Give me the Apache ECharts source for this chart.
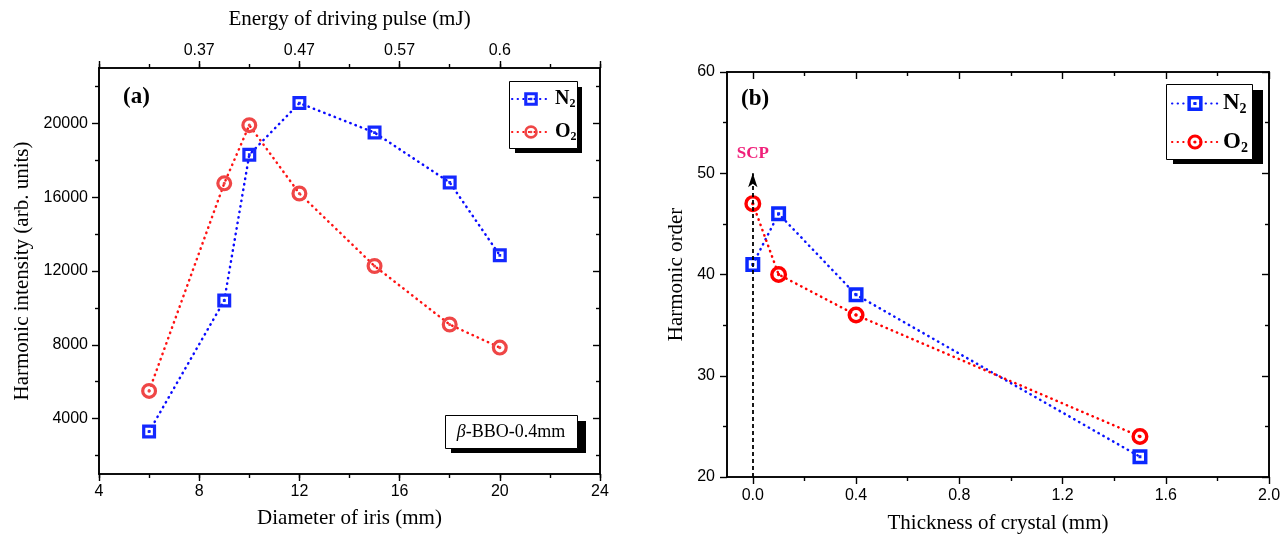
<!DOCTYPE html>
<html>
<head>
<meta charset="utf-8">
<script src="https://cdn.jsdelivr.net/npm/echarts@6/dist/echarts.min.js"></script>
<style>html,body{margin:0;padding:0;background:#fff}#c{width:1286px;height:539px}</style>
</head>
<body>
<div id="c"></div>
<script>
// ---- data: panel (a)
const irisDiameter = [6, 9, 10, 12, 15, 18, 20];
const intensityN2 = [3300, 10400, 18300, 21100, 19500, 16800, 12850];
const intensityO2 = [5500, 16750, 19900, 16200, 12270, 9100, 7850];
const irisLabelVals = [4, 8, 12, 16, 20, 24];
const irisTickVals = [4, 6, 8, 10, 12, 14, 16, 18, 20, 22, 24];
const intensityLabelVals = [4000, 8000, 12000, 16000, 20000];
const intensityMinorVals = [2000, 6000, 10000, 14000, 18000, 22000];
const energyLabelPos = [8, 12, 16, 20];
const energyLabels = ['0.37', '0.47', '0.57', '0.6'];
// ---- data: panel (b)
const thickness = [0, 0.1, 0.4, 1.5];
const orderN2 = [41, 46, 38, 22];
const orderO2 = [47, 40, 36, 24];
const thickLabelVals = [0, 0.4, 0.8, 1.2, 1.6, 2.0];
const thickMinorVals = [0.2, 0.6, 1.0, 1.4, 1.8];
const orderLabelVals = [20, 30, 40, 50, 60];
const orderMinorVals = [25, 35, 45, 55];
const scpThickness = 0;
const scpOrderFrom = 20;
const scpOrderTo = 50;

const SANS = '"Liberation Sans", Arial, sans-serif';
const SERIF = '"Liberation Serif", "Times New Roman", serif';

const sqPath = 'path://M0,0H10V10H0Z M2.3,2.3V7.7H7.7V2.3Z M4,4H6V6H4Z';
const ciPath = 'path://M5,0A5,5 0 1,1 5,10A5,5 0 1,1 5,0Z M5,2A3,3 0 1,0 5,8A3,3 0 1,0 5,2Z M5,4A1,1 0 1,1 5,6A1,1 0 1,1 5,4Z';

function ax(gridIndex, position, min, max, tickVals, tickLen, inside, labelVals, extra) {
  return Object.assign({
    type: 'value', gridIndex: gridIndex, position: position, min: min, max: max,
    axisLine: { show: true, onZero: false, lineStyle: { color: '#000', width: 1.6 } },
    axisTick: { show: true, customValues: tickVals, length: tickLen, inside: inside, lineStyle: { color: '#000', width: 1.4 } },
    axisLabel: labelVals ? { show: true, customValues: labelVals, color: '#000', fontFamily: SANS, fontSize: 16, margin: 10,
      formatter: function (v) { return String(v); } } : { show: false },
    splitLine: { show: false }
  }, extra || {});
}

const TITLE = { fontFamily: SERIF, fontSize: 21, color: '#000' };

const xAxes = [
  ax(0, 'bottom', 4, 24, irisLabelVals, 7, false, irisLabelVals, { name: 'Diameter of iris (mm)', nameLocation: 'middle', nameGap: 34, nameTextStyle: TITLE }),
  ax(0, 'bottom', 4, 24, irisTickVals, 4, false, null),
  ax(0, 'top', 4, 24, irisLabelVals, 7, false, null),
  ax(0, 'top', 4, 24, irisTickVals, 4, false, energyLabelPos, { name: 'Energy of driving pulse (mJ)', nameLocation: 'middle', nameGap: 38, nameTextStyle: TITLE }),
  ax(1, 'bottom', -0.1, 2.0, thickLabelVals, 7, false, thickLabelVals, { name: 'Thickness of crystal (mm)', nameLocation: 'middle', nameGap: 36, nameTextStyle: TITLE }),
  ax(1, 'bottom', -0.1, 2.0, thickMinorVals, 4, false, null),
  ax(1, 'top', -0.1, 2.0, thickLabelVals, 7, true, null),
  ax(1, 'top', -0.1, 2.0, thickMinorVals, 4, true, null)
];
xAxes[0].axisLabel.margin = 10;
xAxes[3].axisLabel.formatter = function (v) { return energyLabels[energyLabelPos.indexOf(v)]; };
xAxes[3].axisLabel.margin = 9;
xAxes[4].axisLabel.margin = 11;
xAxes[4].axisLabel.formatter = function (v) { return v.toFixed(1); };

const yAxes = [
  ax(0, 'left', 1000, 23000, intensityLabelVals, 7, false, intensityLabelVals, { name: 'Harmonic intensity (arb. units)', nameLocation: 'middle', nameGap: 66, nameTextStyle: TITLE }),
  ax(0, 'left', 1000, 23000, intensityMinorVals, 4, false, null),
  ax(0, 'right', 1000, 23000, intensityLabelVals, 7, true, null),
  ax(0, 'right', 1000, 23000, intensityMinorVals, 4, true, null),
  ax(1, 'left', 20, 60, orderLabelVals, 7, false, orderLabelVals, { name: 'Harmonic order', nameLocation: 'middle', nameGap: 40, nameTextStyle: TITLE }),
  ax(1, 'left', 20, 60, orderMinorVals, 4, false, null),
  ax(1, 'right', 20, 60, orderLabelVals, 7, true, null),
  ax(1, 'right', 20, 60, orderMinorVals, 4, true, null)
];
yAxes[0].axisLabel.margin = 11;
yAxes[4].axisLabel.margin = 12;

function zip(xs, ys) { return xs.map(function (x, i) { return [x, ys[i]]; }); }

function lineSeries(name, xi, yi, data, markColor, lineColor, symbol, size) {
  return {
    name: name, type: 'line', xAxisIndex: xi, yAxisIndex: yi, data: data,
    symbol: symbol, symbolSize: size, showSymbol: true,
    itemStyle: { color: markColor },
    lineStyle: { color: lineColor, width: 2.5, type: [0.4, 5.2], cap: 'round' },
    emphasis: { disabled: true }, animation: false, z: 3
  };
}

const series = [
  lineSeries('N2a', 0, 0, zip(irisDiameter, intensityN2), '#1428ff', '#0a0aff', sqPath, 14),
  lineSeries('O2a', 0, 0, zip(irisDiameter, intensityO2), '#ef4646', '#ff1414', ciPath, 16),
  {
    name: 'SCP', type: 'line', xAxisIndex: 4, yAxisIndex: 4, data: [], z: 2, animation: false,
    markLine: {
      silent: true, animation: false, symbolSize: [7, 14],
      lineStyle: { color: '#000', type: [4, 3], width: 1.8 },
      label: { show: true, position: 'end', formatter: 'SCP', color: '#f0207a', fontFamily: SERIF, fontWeight: 'bold', fontSize: 17, distance: 11 },
      data: [[{ coord: [scpThickness, scpOrderFrom], symbol: 'none' }, { coord: [scpThickness, scpOrderTo], symbol: 'arrow' }]]
    }
  },
  lineSeries('N2b', 4, 4, zip(thickness, orderN2), '#0a28ff', '#0a14ff', sqPath, 15),
  lineSeries('O2b', 4, 4, zip(thickness, orderO2), '#ff0000', '#ff0000', ciPath, 17)
];

function legendFmt(name) { return '{m|' + name.charAt(0) + '}{s|2}'; }
function legendRich(fs) {
  return {
    m: { fontFamily: SERIF, fontWeight: 'bold', fontSize: fs, color: '#000' },
    s: { fontFamily: SERIF, fontWeight: 'bold', fontSize: Math.round(fs * 0.62), color: '#000', padding: [Math.round(fs * 0.5), 0, 0, 0] }
  };
}

const option = {
  backgroundColor: '#fff',
  animation: false,
  grid: [
    { left: 99, top: 68, right: 686, bottom: 65, containLabel: false },
    { left: 727, top: 72, right: 17, bottom: 62, containLabel: false }
  ],
  xAxis: xAxes,
  yAxis: yAxes,
  legend: [
    {
      data: ['N2a', 'O2a'], orient: 'vertical', left: 509, top: 81, z: 20,
      padding: [8, 4, 6, 2], itemGap: 12, itemWidth: 38, itemHeight: 17,
      backgroundColor: 'transparent', borderWidth: 0,
      formatter: legendFmt, textStyle: { rich: legendRich(20) }, selectedMode: false
    },
    {
      data: ['N2b', 'O2b'], orient: 'vertical', left: 1166, top: 84, z: 20,
      padding: [8, 4, 6, 5], itemGap: 14, itemWidth: 46, itemHeight: 19,
      backgroundColor: 'transparent', borderWidth: 0,
      formatter: legendFmt, textStyle: { rich: legendRich(23) }, selectedMode: false
    }
  ],
  graphic: [
    { type: 'text', left: 123, top: 86, style: { text: '(a)', fontFamily: SERIF, fontWeight: 'bold', fontSize: 23, fill: '#000' } },
    { type: 'text', left: 741, top: 88, style: { text: '(b)', fontFamily: SERIF, fontWeight: 'bold', fontSize: 23, fill: '#000' } },
    { type: 'rect', shape: { x: 515, y: 87, width: 67, height: 66 }, style: { fill: '#000' }, z: 10 },
    { type: 'rect', shape: { x: 509.5, y: 81.5, width: 68, height: 67 }, style: { fill: '#fff', stroke: '#000', lineWidth: 1 }, z: 11 },
    { type: 'rect', shape: { x: 1173, y: 90, width: 90, height: 74 }, style: { fill: '#000' }, z: 10 },
    { type: 'rect', shape: { x: 1166.5, y: 84.5, width: 86, height: 75 }, style: { fill: '#fff', stroke: '#000', lineWidth: 1 }, z: 11 },
    { type: 'rect', shape: { x: 451, y: 421, width: 135, height: 32 }, style: { fill: '#000' }, z: 10 },
    { type: 'rect', shape: { x: 445.5, y: 415.5, width: 132, height: 33 }, style: { fill: '#fff', stroke: '#000', lineWidth: 1 }, z: 11 },
    {
      type: 'text', x: 511, y: 432, z: 12,
      style: {
        text: '{i|β}{r|-BBO-0.4mm}', align: 'center', verticalAlign: 'middle',
        rich: {
          i: { fontFamily: SERIF, fontStyle: 'italic', fontSize: 18, fill: '#000' },
          r: { fontFamily: SERIF, fontSize: 18, fill: '#000' }
        }
      }
    }
  ],
  series: series
};

const chart = echarts.init(document.getElementById('c'), null, { renderer: 'canvas' });
chart.setOption(option);
</script>
</body>
</html>
